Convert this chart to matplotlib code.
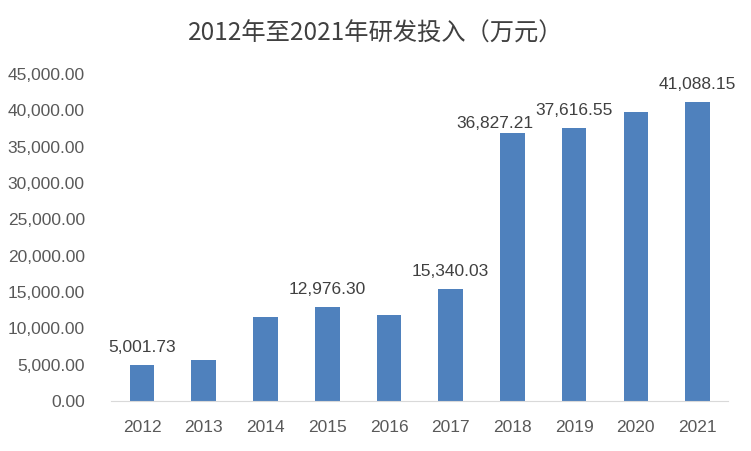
import matplotlib
matplotlib.use("Agg")
import matplotlib.pyplot as plt
from matplotlib.ticker import FuncFormatter

years = ["2012", "2013", "2014", "2015", "2016", "2017", "2018", "2019", "2020", "2021"]
values = [5001.73, 5580.0, 11550.0, 12976.30, 11800.0, 15340.03, 36827.21, 37616.55, 39700.0, 41088.15]
labeled = ["2012", "2015", "2017", "2018", "2019", "2021"]
title = "2012年至2021年研发投入（万元）"

plt.rcParams['font.family'] = ['Liberation Sans', 'DejaVu Sans']
text_color = "#595959"

fig = plt.figure(figsize=(7.51, 4.51), dpi=100)
ax = fig.add_axes([0.148, 0.111, 0.822, 0.725])
x = list(range(len(years)))
bars = ax.bar(x, values, width=0.4, color="#4F81BD", zorder=2)
ax.set_ylim(0, 45000)
ax.set_xlim(-0.5, len(years) - 0.5)
ax.set_yticks(range(0, 45001, 5000))
ax.yaxis.set_major_formatter(FuncFormatter(lambda v, p: f"{v:,.2f}"))
ax.set_xticks(x)
ax.set_xticklabels(years)
for s in ["top", "right", "left"]:
    ax.spines[s].set_visible(False)
ax.spines["bottom"].set_color("#D9D9D9")
ax.tick_params(axis="both", length=0, colors=text_color, labelsize=12.5)
ax.tick_params(axis="y", pad=19)
ax.tick_params(axis="x", pad=14)

# label placement offsets in pixels (the 2018 label is nudged left as in the original)
offsets = {"2018": (-17, 2)}
for xi, yr, v in zip(x, years, values):
    if yr in labeled:
        dx, dy = offsets.get(yr, (0, 10))
        ax.annotate(f"{v:,.2f}", (xi, v), xytext=(dx, dy), textcoords="offset pixels",
                    ha="center", va="bottom", fontsize=12.5, color="#404040")

fig.text(0.5, 0.925, title, ha="center", va="center", fontsize=17.5, color="#404040",
         family=['Noto Sans CJK SC', 'DejaVu Sans'])
fig.savefig("out.png", dpi=100)
